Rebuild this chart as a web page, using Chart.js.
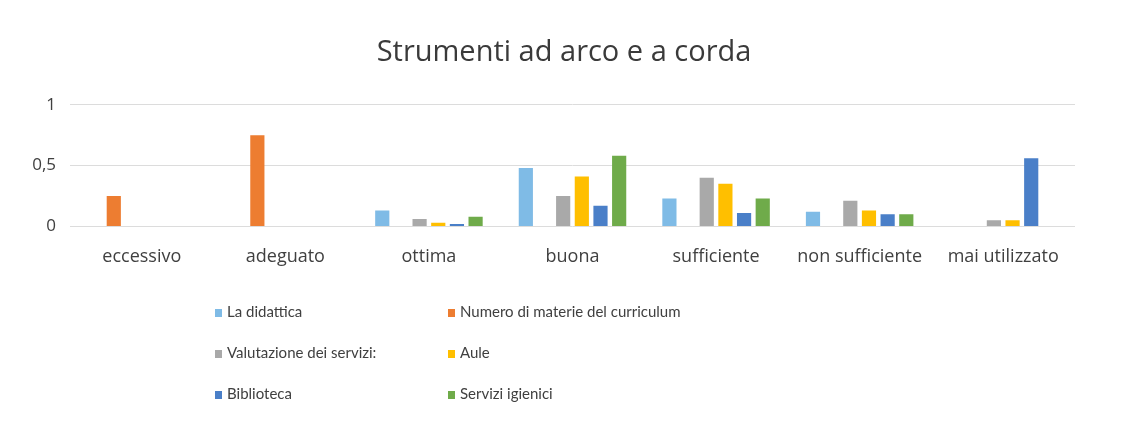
<!DOCTYPE html>
<html>
<head>
<meta charset="utf-8">
<script src="https://cdn.jsdelivr.net/npm/chart.js@4"></script>
<style>
  html, body { margin: 0; padding: 0; background: #fff; }
  #wrap { position: relative; width: 1147px; height: 427px; overflow: hidden; }
  #chartStrumenti { position: absolute; left: 0; top: 0; }
  #legenda { position: absolute; left: 0; top: 0; width: 1147px; height: 427px; pointer-events: none; }
  .voce { position: absolute; font: 15px Lato, sans-serif; color: #404040; white-space: nowrap; line-height: 18px; }
  .voce span.box { display: inline-block; width: 7px; height: 8px; margin-right: 5px; vertical-align: 0px; }
</style>
</head>
<body>
<div id="wrap">
  <canvas id="chartStrumenti" width="1147" height="306"></canvas>
  <div id="legenda"></div>
</div>
<script>
const categorie = ['eccessivo', 'adeguato', 'ottima', 'buona', 'sufficiente', 'non sufficiente', 'mai utilizzato'];

const didattica    = [null, null, 0.13, 0.48, 0.23, 0.12, null];
const numMaterie   = [0.25, 0.75, null, null, null, null, null];
const valutazione  = [null, null, 0.06, 0.25, 0.40, 0.21, 0.05];
const aule         = [null, null, 0.03, 0.41, 0.35, 0.13, 0.05];
const biblioteca   = [null, null, 0.02, 0.17, 0.11, 0.10, 0.56];
const igienici     = [null, null, 0.08, 0.58, 0.23, 0.10, null];

const tickY = [0, 0.5, 1];

const serie = [
  { label: 'La didattica', data: didattica, color: '#7fbbe6' },
  { label: 'Numero di materie del curriculum', data: numMaterie, color: '#ed7d31' },
  { label: 'Valutazione dei servizi:', data: valutazione, color: '#a9a9a9' },
  { label: 'Aule', data: aule, color: '#ffbf00' },
  { label: 'Biblioteca', data: biblioteca, color: '#4a7fc8' },
  { label: 'Servizi igienici', data: igienici, color: '#6fab4a' }
];

const dataStrumenti = {
  labels: categorie,
  datasets: serie.map(s => ({
    label: s.label,
    data: s.data,
    backgroundColor: s.color,
    borderWidth: 0,
    categoryPercentage: 0.78,
    barPercentage: 0.76
  }))
};

const optionsStrumenti = {
  responsive: false,
  animation: false,
  layout: {
    padding: { left: 18, right: 37, top: 0, bottom: 26 }
  },
  scales: {
    x: {
      grid: { display: false },
      border: { display: false },
      ticks: {
        color: '#404040',
        padding: 12,
        font: { family: 'Open Sans', size: 18 },
        maxRotation: 0,
        autoSkip: false
      }
    },
    y: {
      min: 0,
      max: 1,
      afterBuildTicks: axis => { axis.ticks = tickY.map(v => ({ value: v })); },
      afterFit: axis => { axis.width = 52; },
      grid: { color: '#dcdcdc', lineWidth: 1, drawTicks: false },
      border: { display: false },
      ticks: {
        color: '#404040',
        padding: 14,
        font: { family: 'Open Sans', size: 17 },
        callback: v => String(v).replace('.', ',')
      }
    },
    // asse vuoto a destra, serve solo a centrare il titolo
    destra: {
      position: 'right',
      afterFit: axis => { axis.width = 35; },
      grid: { display: false },
      border: { display: false },
      ticks: { display: false }
    }
  },
  plugins: {
    legend: { display: false },
    tooltip: { enabled: false },
    title: {
      display: true,
      text: 'Strumenti ad arco e a corda',
      color: '#3a3a3a',
      font: { family: 'Open Sans', size: 29, weight: 'normal' },
      padding: { top: 35, bottom: 35 }
    }
  }
};

const ctxStrumenti = document.getElementById('chartStrumenti');

const chartStrumenti = new Chart(ctxStrumenti, {
  type: 'bar',
  data: dataStrumenti,
  options: optionsStrumenti
});

// legenda su due colonne come nell'originale
const legenda = document.getElementById('legenda');
const colonneX = [215, 448];
const righeY = [302, 343, 384];
chartStrumenti.data.datasets.forEach((ds, i) => {
  const voce = document.createElement('div');
  voce.className = 'voce';
  voce.style.left = colonneX[i % 2] + 'px';
  voce.style.top = righeY[Math.floor(i / 2)] + 'px';
  const box = document.createElement('span');
  box.className = 'box';
  box.style.background = ds.backgroundColor;
  voce.appendChild(box);
  voce.appendChild(document.createTextNode(ds.label));
  legenda.appendChild(voce);
});
</script>
</body>
</html>
